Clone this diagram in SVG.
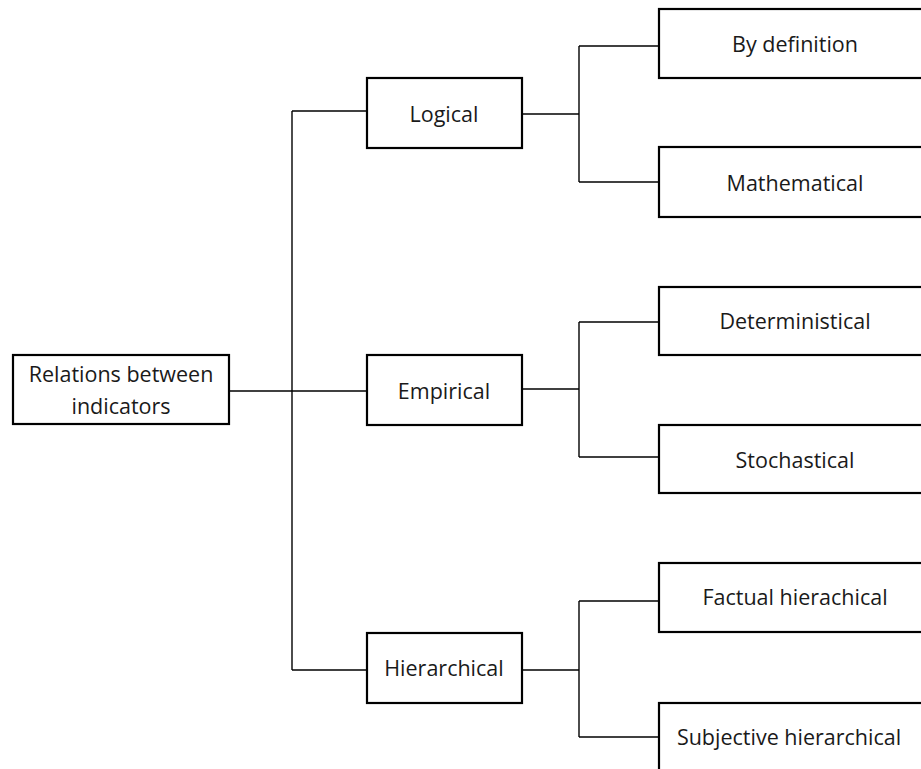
<svg xmlns="http://www.w3.org/2000/svg" width="921" height="769" viewBox="0 0 921 769">
  <style>
    .box { fill: #ffffff; stroke: #000000; stroke-width: 2.2; }
    .wire { fill: none; stroke: #000000; stroke-width: 1.4; }
    .label { font-family: "Open Sans", "Liberation Sans", sans-serif; font-size: 21.5px; fill: #1a1a1a; text-anchor: middle; }
  </style>
  <rect width="921" height="769" fill="#ffffff"/>

  <!-- connectors -->
  <g id="connectors">
    <!-- root to level 1 -->
    <path class="wire" d="M229,391 H292"/>
    <path class="wire" d="M292,111 V670"/>
    <path class="wire" d="M292,111 H367"/>
    <path class="wire" d="M292,391 H367"/>
    <path class="wire" d="M292,670 H367"/>
    <!-- Logical branch -->
    <path class="wire" d="M522,114 H579"/>
    <path class="wire" d="M579,46 V182"/>
    <path class="wire" d="M579,46 H659"/>
    <path class="wire" d="M579,182 H659"/>
    <!-- Empirical branch -->
    <path class="wire" d="M522,389 H579"/>
    <path class="wire" d="M579,322 V457"/>
    <path class="wire" d="M579,322 H659"/>
    <path class="wire" d="M579,457 H659"/>
    <!-- Hierarchical branch -->
    <path class="wire" d="M522,670 H579"/>
    <path class="wire" d="M579,601 V737"/>
    <path class="wire" d="M579,601 H659"/>
    <path class="wire" d="M579,737 H659"/>
  </g>

  <g id="root">
    <rect class="box" x="13" y="355" width="216" height="69"/>
    <text class="label" x="121" y="382">Relations between</text>
    <text class="label" x="121" y="414">indicators</text>
  </g>

  <g id="logical">
    <rect class="box" x="367" y="78" width="155" height="70"/>
    <text class="label" x="444" y="122">Logical</text>
  </g>
  <g id="empirical">
    <rect class="box" x="367" y="355" width="155" height="70"/>
    <text class="label" x="444" y="399">Empirical</text>
  </g>
  <g id="hierarchical">
    <rect class="box" x="367" y="633" width="155" height="70"/>
    <text class="label" x="444" y="676">Hierarchical</text>
  </g>

  <g id="by-definition">
    <rect class="box" x="659" y="9" width="272" height="69"/>
    <text class="label" x="795" y="52">By definition</text>
  </g>
  <g id="mathematical">
    <rect class="box" x="659" y="147" width="272" height="70"/>
    <text class="label" x="795" y="191">Mathematical</text>
  </g>
  <g id="deterministical">
    <rect class="box" x="659" y="287" width="272" height="68"/>
    <text class="label" x="795" y="329">Deterministical</text>
  </g>
  <g id="stochastical">
    <rect class="box" x="659" y="425" width="272" height="68"/>
    <text class="label" x="795" y="468">Stochastical</text>
  </g>
  <g id="factual-hierarchical">
    <rect class="box" x="659" y="563" width="272" height="69"/>
    <text class="label" x="795" y="605">Factual hierachical</text>
  </g>
  <g id="subjective-hierarchical">
    <rect class="box" x="659" y="703" width="272" height="69"/>
    <text class="label" x="789" y="745">Subjective hierarchical</text>
  </g>
</svg>
